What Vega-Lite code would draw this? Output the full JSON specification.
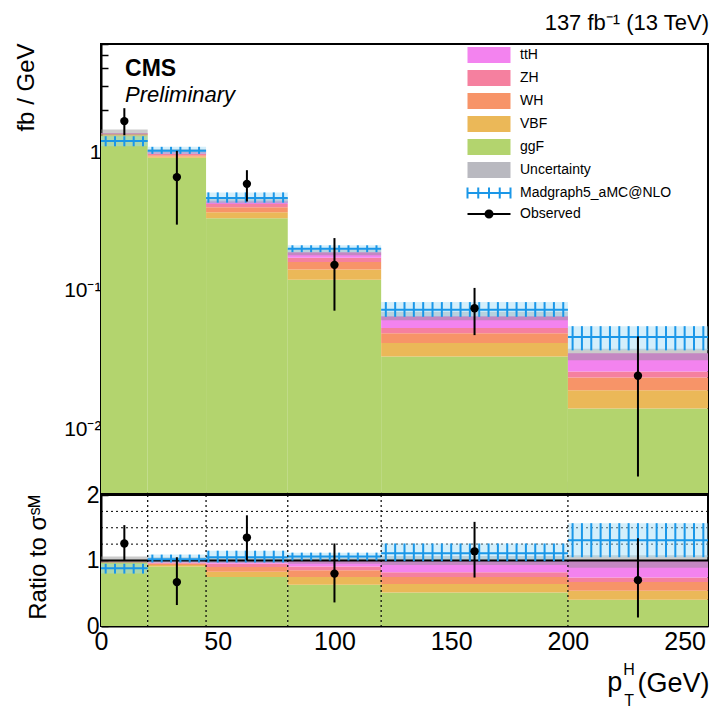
{
  "$schema": "https://vega.github.io/schema/vega-lite/v6.json",
  "padding": {"left": 12, "top": 11, "right": 0, "bottom": 0},
  "spacing": -15,
  "datasets": {
    "stack": [
      {"process": "ggF", "lo": 0, "hi": 20, "y": 0.001, "y2": 1.315, "r": 0, "r2": 0.96},
      {"process": "VBF", "lo": 0, "hi": 20, "y": 1.315, "y2": 1.336, "r": 0.96, "r2": 0.975},
      {"process": "WH", "lo": 0, "hi": 20, "y": 1.336, "y2": 1.349, "r": 0.975, "r2": 0.985},
      {"process": "ZH", "lo": 0, "hi": 20, "y": 1.349, "y2": 1.36, "r": 0.985, "r2": 0.993},
      {"process": "ttH", "lo": 0, "hi": 20, "y": 1.36, "y2": 1.37, "r": 0.993, "r2": 1.0},
      {"process": "ggF", "lo": 20, "hi": 45, "y": 0.001, "y2": 0.91, "r": 0, "r2": 0.91},
      {"process": "VBF", "lo": 20, "hi": 45, "y": 0.91, "y2": 0.93, "r": 0.91, "r2": 0.93},
      {"process": "WH", "lo": 20, "hi": 45, "y": 0.93, "y2": 0.95, "r": 0.93, "r2": 0.95},
      {"process": "ZH", "lo": 20, "hi": 45, "y": 0.95, "y2": 0.97, "r": 0.95, "r2": 0.97},
      {"process": "ttH", "lo": 20, "hi": 45, "y": 0.97, "y2": 1.0, "r": 0.97, "r2": 1.0},
      {"process": "ggF", "lo": 45, "hi": 80, "y": 0.001, "y2": 0.334, "r": 0, "r2": 0.75},
      {"process": "VBF", "lo": 45, "hi": 80, "y": 0.334, "y2": 0.369, "r": 0.75, "r2": 0.83},
      {"process": "WH", "lo": 45, "hi": 80, "y": 0.369, "y2": 0.4, "r": 0.83, "r2": 0.9},
      {"process": "ZH", "lo": 45, "hi": 80, "y": 0.4, "y2": 0.423, "r": 0.9, "r2": 0.95},
      {"process": "ttH", "lo": 45, "hi": 80, "y": 0.423, "y2": 0.445, "r": 0.95, "r2": 1.0},
      {"process": "ggF", "lo": 80, "hi": 120, "y": 0.001, "y2": 0.12, "r": 0, "r2": 0.63},
      {"process": "VBF", "lo": 80, "hi": 120, "y": 0.12, "y2": 0.1425, "r": 0.63, "r2": 0.75},
      {"process": "WH", "lo": 80, "hi": 120, "y": 0.1425, "y2": 0.1615, "r": 0.75, "r2": 0.85},
      {"process": "ZH", "lo": 80, "hi": 120, "y": 0.1615, "y2": 0.173, "r": 0.85, "r2": 0.91},
      {"process": "ttH", "lo": 80, "hi": 120, "y": 0.173, "y2": 0.19, "r": 0.91, "r2": 1.0},
      {"process": "ggF", "lo": 120, "hi": 200, "y": 0.001, "y2": 0.0337, "r": 0, "r2": 0.51},
      {"process": "VBF", "lo": 120, "hi": 200, "y": 0.0337, "y2": 0.0422, "r": 0.51, "r2": 0.64},
      {"process": "WH", "lo": 120, "hi": 200, "y": 0.0422, "y2": 0.0495, "r": 0.64, "r2": 0.75},
      {"process": "ZH", "lo": 120, "hi": 200, "y": 0.0495, "y2": 0.0541, "r": 0.75, "r2": 0.82},
      {"process": "ttH", "lo": 120, "hi": 200, "y": 0.0541, "y2": 0.066, "r": 0.82, "r2": 1.0},
      {"process": "ggF", "lo": 200, "hi": 260, "y": 0.001, "y2": 0.0142, "r": 0, "r2": 0.4},
      {"process": "VBF", "lo": 200, "hi": 260, "y": 0.0142, "y2": 0.0192, "r": 0.4, "r2": 0.54},
      {"process": "WH", "lo": 200, "hi": 260, "y": 0.0192, "y2": 0.0238, "r": 0.54, "r2": 0.67},
      {"process": "ZH", "lo": 200, "hi": 260, "y": 0.0238, "y2": 0.0263, "r": 0.67, "r2": 0.74},
      {"process": "ttH", "lo": 200, "hi": 260, "y": 0.0263, "y2": 0.0355, "r": 0.74, "r2": 1.0}
    ],
    "bins": [
      {"lo": 0, "hi": 20, "x": 10, "obs": 1.67, "obsLo": 1.32, "obsHi": 2.07, "rObs": 1.26, "rObsLo": 1.0, "rObsHi": 1.54, "uLo": 1.315, "uHi": 1.452, "rULo": 0.96, "rUHi": 1.06, "mg": 1.2, "mgLo": 1.1, "mgHi": 1.3, "rMg": 0.88, "rMgLo": 0.8, "rMgHi": 0.95},
      {"lo": 20, "hi": 45, "x": 32.5, "obs": 0.66, "obsLo": 0.3, "obsHi": 1.02, "rObs": 0.67, "rObsLo": 0.32, "rObsHi": 1.05, "uLo": 0.97, "uHi": 1.05, "rULo": 0.97, "rUHi": 1.05, "mg": 1.02, "mgLo": 0.97, "mgHi": 1.09, "rMg": 1.02, "rMgLo": 0.97, "rMgHi": 1.09},
      {"lo": 45, "hi": 80, "x": 62.5, "obs": 0.59, "obsLo": 0.44, "obsHi": 0.74, "rObs": 1.35, "rObsLo": 1.0, "rObsHi": 1.69, "uLo": 0.427, "uHi": 0.467, "rULo": 0.96, "rUHi": 1.05, "mg": 0.467, "mgLo": 0.432, "mgHi": 0.512, "rMg": 1.05, "rMgLo": 0.97, "rMgHi": 1.15},
      {"lo": 80, "hi": 120, "x": 100, "obs": 0.154, "obsLo": 0.072, "obsHi": 0.24, "rObs": 0.8, "rObsLo": 0.36, "rObsHi": 1.26, "uLo": 0.1805, "uHi": 0.1995, "rULo": 0.95, "rUHi": 1.05, "mg": 0.201, "mgLo": 0.19, "mgHi": 0.213, "rMg": 1.06, "rMgLo": 1.0, "rMgHi": 1.12},
      {"lo": 120, "hi": 200, "x": 160, "obs": 0.075, "obsLo": 0.048, "obsHi": 0.105, "rObs": 1.14, "rObsLo": 0.74, "rObsHi": 1.59, "uLo": 0.0614, "uHi": 0.0706, "rULo": 0.93, "rUHi": 1.07, "mg": 0.073, "mgLo": 0.065, "mgHi": 0.083, "rMg": 1.11, "rMgLo": 0.99, "rMgHi": 1.26},
      {"lo": 200, "hi": 260, "x": 230, "obs": 0.0245, "obsLo": 0.0046, "obsHi": 0.047, "rObs": 0.7, "rObsLo": 0.13, "rObsHi": 1.34, "uLo": 0.0316, "uHi": 0.0383, "rULo": 0.89, "rUHi": 1.08, "mg": 0.0465, "mgLo": 0.0373, "mgHi": 0.0557, "rMg": 1.31, "rMgLo": 1.05, "rMgHi": 1.57}
    ],
    "ticks": [
      {"x": 2, "lo": 0}, {"x": 6, "lo": 0}, {"x": 10, "lo": 0}, {"x": 14, "lo": 0}, {"x": 18, "lo": 0},
      {"x": 22, "lo": 20}, {"x": 26, "lo": 20}, {"x": 30, "lo": 20}, {"x": 34, "lo": 20}, {"x": 38, "lo": 20}, {"x": 42, "lo": 20},
      {"x": 46, "lo": 45}, {"x": 50, "lo": 45}, {"x": 54, "lo": 45}, {"x": 58, "lo": 45}, {"x": 62, "lo": 45}, {"x": 66, "lo": 45}, {"x": 70, "lo": 45}, {"x": 74, "lo": 45}, {"x": 78, "lo": 45},
      {"x": 82, "lo": 80}, {"x": 86, "lo": 80}, {"x": 90, "lo": 80}, {"x": 94, "lo": 80}, {"x": 98, "lo": 80}, {"x": 102, "lo": 80}, {"x": 106, "lo": 80}, {"x": 110, "lo": 80}, {"x": 114, "lo": 80}, {"x": 118, "lo": 80},
      {"x": 122, "lo": 120}, {"x": 126, "lo": 120}, {"x": 130, "lo": 120}, {"x": 134, "lo": 120}, {"x": 138, "lo": 120}, {"x": 142, "lo": 120}, {"x": 146, "lo": 120}, {"x": 150, "lo": 120}, {"x": 154, "lo": 120}, {"x": 158, "lo": 120},
      {"x": 162, "lo": 120}, {"x": 166, "lo": 120}, {"x": 170, "lo": 120}, {"x": 174, "lo": 120}, {"x": 178, "lo": 120}, {"x": 182, "lo": 120}, {"x": 186, "lo": 120}, {"x": 190, "lo": 120}, {"x": 194, "lo": 120}, {"x": 198, "lo": 120},
      {"x": 202, "lo": 200}, {"x": 206, "lo": 200}, {"x": 210, "lo": 200}, {"x": 214, "lo": 200}, {"x": 218, "lo": 200}, {"x": 222, "lo": 200}, {"x": 226, "lo": 200}, {"x": 230, "lo": 200}, {"x": 234, "lo": 200}, {"x": 238, "lo": 200},
      {"x": 242, "lo": 200}, {"x": 246, "lo": 200}, {"x": 250, "lo": 200}, {"x": 254, "lo": 200}, {"x": 258, "lo": 200}
    ]
  },
  "resolve": {"scale": {"fill": "independent"}, "legend": {"fill": "independent"}},
  "vconcat": [
    {
      "width": 607,
      "height": 449,
      "title": {"text": "137 fb⁻¹ (13 TeV)", "anchor": "end", "fontSize": 22, "fontWeight": "normal", "font": "Liberation Sans", "offset": 8, "color": "black"},
      "layer": [
        {
          "data": {"name": "stack"},
          "mark": {"type": "rect", "clip": true},
          "encoding": {
            "x": {"field": "lo", "type": "quantitative", "scale": {"domain": [0, 260], "nice": false, "zero": false},
                  "axis": {"values": [0, 50, 100, 150, 200, 250], "labels": false, "tickSize": -12, "tickWidth": 1.5, "title": null}},
            "x2": {"field": "hi"},
            "y": {"field": "y", "type": "quantitative", "scale": {"type": "log", "domain": [0.0035, 6], "nice": false},
                  "axis": {"title": "fb / GeV", "titleFontSize": 24, "titleAnchor": "end", "titleAlign": "right", "titleAngle": -90, "titleX": -68, "titleY": -1, "titleBaseline": "alphabetic",
                           "values": [0.004, 0.005, 0.006, 0.007, 0.008, 0.009, 0.01, 0.02, 0.03, 0.04, 0.05, 0.06, 0.07, 0.08, 0.09, 0.1, 0.2, 0.3, 0.4, 0.5, 0.6, 0.7, 0.8, 0.9, 1, 2, 3, 4, 5, 6],
                           "labelExpr": "datum.value == 1 ? '1' : datum.value == 0.1 ? '10⁻¹' : datum.value == 0.01 ? '10⁻²' : ''",
                           "labelFontSize": 21, "labelPadding": 14, "tickWidth": 1.5,
                           "tickSize": {"condition": {"test": "datum.value == 1 || datum.value == 0.1 || datum.value == 0.01", "value": -14}, "value": -7}}},
            "y2": {"field": "y2"},
            "fill": {"field": "process", "type": "nominal",
                     "scale": {"domain": ["ttH", "ZH", "WH", "VBF", "ggF", "Uncertainty", "Madgraph5_aMC@NLO", "Observed"],
                               "range": ["#f383ef", "#f5809f", "#f79468", "#ebb858", "#b3d46e", "#b9b9c0", "#1a97e8", "#000000"]},
                     "legend": {"orient": "none", "legendX": 377, "legendY": 0, "padding": 0, "rowPadding": -3.4, "title": null,
                                "symbolSize": 400, "labelOffset": 20, "labelFontSize": 14, "labelFont": "Liberation Sans", "labelColor": "black", "labelLimit": 300,
                                "encode": {"symbols": {"update": {
                                  "shape": {"signal": "datum.value === 'Observed' ? 'M-2.15,0H2.15M-0.35,0A0.35,0.35 0 1,1 0.35,0A0.35,0.35 0 1,1 -0.35,0Z' : datum.value === 'Madgraph5_aMC@NLO' ? 'M-2.15,0H2.15M-2.15,-0.55V0.55M-1.075,-0.55V0.55M0,-0.55V0.55M1.075,-0.55V0.55M2.15,-0.55V0.55' : 'M-2.15,-0.8H2.15V0.8H-2.15Z'"},
                                  "stroke": {"signal": "datum.value === 'Observed' ? '#000000' : datum.value === 'Madgraph5_aMC@NLO' ? '#1a97e8' : 'transparent'"},
                                  "strokeWidth": {"value": 2}}}}}}
          }
        },
        {
          "data": {"name": "bins"},
          "mark": {"type": "rect", "fill": "#8c8c8c", "fillOpacity": 0.45},
          "encoding": {"x": {"field": "lo", "type": "quantitative"}, "x2": {"field": "hi"}, "y": {"field": "uLo", "type": "quantitative"}, "y2": {"field": "uHi"}}
        },
        {
          "data": {"name": "bins"},
          "mark": {"type": "rect", "fill": "#9fdcf7", "fillOpacity": 0.45},
          "encoding": {"x": {"field": "lo", "type": "quantitative"}, "x2": {"field": "hi"}, "y": {"field": "mgLo", "type": "quantitative"}, "y2": {"field": "mgHi"}}
        },
        {
          "data": {"name": "ticks"},
          "transform": [{"lookup": "lo", "from": {"data": {"name": "bins"}, "key": "lo", "fields": ["mgLo", "mgHi"]}}],
          "mark": {"type": "rule", "stroke": "#1a97e8", "strokeWidth": 2},
          "encoding": {"x": {"field": "x", "type": "quantitative"}, "y": {"field": "mgLo", "type": "quantitative"}, "y2": {"field": "mgHi"}}
        },
        {
          "data": {"name": "bins"},
          "mark": {"type": "rule", "stroke": "#1a97e8", "strokeWidth": 2},
          "encoding": {"x": {"field": "lo", "type": "quantitative"}, "x2": {"field": "hi"}, "y": {"field": "mg", "type": "quantitative"}}
        },
        {
          "data": {"name": "bins"},
          "mark": {"type": "rule", "stroke": "black", "strokeWidth": 2},
          "encoding": {"x": {"field": "x", "type": "quantitative"}, "y": {"field": "obsLo", "type": "quantitative"}, "y2": {"field": "obsHi"}}
        },
        {
          "data": {"name": "bins"},
          "mark": {"type": "point", "filled": true, "fill": "black", "opacity": 1, "size": 70},
          "encoding": {"x": {"field": "x", "type": "quantitative"}, "y": {"field": "obs", "type": "quantitative"}}
        },
        {
          "data": {"values": [{}]},
          "mark": {"type": "text", "text": "CMS", "fontSize": 23, "fontWeight": "bold", "align": "left", "baseline": "alphabetic", "font": "Liberation Sans", "color": "black"},
          "encoding": {"x": {"datum": 10.3}, "y": {"datum": 3.52}}
        },
        {
          "data": {"values": [{}]},
          "mark": {"type": "text", "text": "Preliminary", "fontSize": 22, "fontStyle": "italic", "align": "left", "baseline": "alphabetic", "font": "Liberation Sans", "color": "black"},
          "encoding": {"x": {"datum": 10.3}, "y": {"datum": 2.29}}
        }
      ]
    },
    {
      "width": 607,
      "height": 131,
      "layer": [
        {
          "data": {"values": [{"g": 1.25}, {"g": 1.5}, {"g": 1.75}]},
          "mark": {"type": "rule", "stroke": "black", "strokeWidth": 1, "strokeDash": [2, 3]},
          "encoding": {"y": {"field": "g", "type": "quantitative"}}
        },
        {
          "data": {"name": "stack"},
          "mark": {"type": "rect"},
          "encoding": {
            "x": {"field": "lo", "type": "quantitative", "scale": {"domain": [0, 260], "nice": false, "zero": false},
                  "axis": {"values": [0, 50, 100, 150, 200, 250], "tickSize": -7, "tickWidth": 1.5, "labelFontSize": 25, "labelPadding": 10, "labelFlush": false,
                           "title": "(GeV)", "titleFontSize": 27, "titleAnchor": "end", "titleAlign": "right", "titleX": 608, "titleY": 65, "titleBaseline": "alphabetic"}},
            "x2": {"field": "hi"},
            "y": {"field": "r", "type": "quantitative", "scale": {"domain": [0, 2], "nice": false},
                  "axis": {"values": [0, 0.5, 1, 1.5, 2], "format": "~g", "tickSize": -7, "tickWidth": 1.5, "labelFontSize": 23, "labelPadding": 9,
                           "title": "Ratio to σˢᴹ", "titleFontSize": 24, "titleAngle": -90, "titleX": -56, "titleY": 62, "titleAlign": "center", "titleBaseline": "alphabetic"}},
            "y2": {"field": "r2"},
            "fill": {"field": "process", "type": "nominal",
                     "scale": {"domain": ["ttH", "ZH", "WH", "VBF", "ggF", "Uncertainty", "Madgraph5_aMC@NLO", "Observed"],
                               "range": ["#f383ef", "#f5809f", "#f79468", "#ebb858", "#b3d46e", "#b9b9c0", "#1a97e8", "#000000"]},
                     "legend": null}
          }
        },
        {
          "data": {"name": "bins"},
          "mark": {"type": "rect", "fill": "#8c8c8c", "fillOpacity": 0.45},
          "encoding": {"x": {"field": "lo", "type": "quantitative"}, "x2": {"field": "hi"}, "y": {"field": "rULo", "type": "quantitative"}, "y2": {"field": "rUHi"}}
        },
        {
          "data": {"name": "bins"},
          "mark": {"type": "rect", "fill": "#9fdcf7", "fillOpacity": 0.45},
          "encoding": {"x": {"field": "lo", "type": "quantitative"}, "x2": {"field": "hi"}, "y": {"field": "rMgLo", "type": "quantitative"}, "y2": {"field": "rMgHi"}}
        },
        {
          "data": {"values": [{}]},
          "mark": {"type": "rule", "stroke": "black", "strokeWidth": 2},
          "encoding": {"y": {"datum": 1}}
        },
        {
          "data": {"name": "ticks"},
          "transform": [{"lookup": "lo", "from": {"data": {"name": "bins"}, "key": "lo", "fields": ["rMgLo", "rMgHi"]}}],
          "mark": {"type": "rule", "stroke": "#1a97e8", "strokeWidth": 2},
          "encoding": {"x": {"field": "x", "type": "quantitative"}, "y": {"field": "rMgLo", "type": "quantitative"}, "y2": {"field": "rMgHi"}}
        },
        {
          "data": {"name": "bins"},
          "mark": {"type": "rule", "stroke": "#1a97e8", "strokeWidth": 2},
          "encoding": {"x": {"field": "lo", "type": "quantitative"}, "x2": {"field": "hi"}, "y": {"field": "rMg", "type": "quantitative"}}
        },
        {
          "data": {"values": [{"e": 20}, {"e": 45}, {"e": 80}, {"e": 120}, {"e": 200}]},
          "mark": {"type": "rule", "stroke": "black", "strokeWidth": 1.2, "strokeDash": [2, 3]},
          "encoding": {"x": {"field": "e", "type": "quantitative"}}
        },
        {
          "data": {"name": "bins"},
          "mark": {"type": "rule", "stroke": "black", "strokeWidth": 2},
          "encoding": {"x": {"field": "x", "type": "quantitative"}, "y": {"field": "rObsLo", "type": "quantitative"}, "y2": {"field": "rObsHi"}}
        },
        {
          "data": {"name": "bins"},
          "mark": {"type": "point", "filled": true, "fill": "black", "opacity": 1, "size": 70},
          "encoding": {"x": {"field": "x", "type": "quantitative"}, "y": {"field": "rObs", "type": "quantitative"}}
        },
        {
          "data": {"values": [{}]},
          "mark": {"type": "text", "text": "p", "fontSize": 27, "align": "right", "baseline": "alphabetic", "font": "Liberation Sans", "color": "black"},
          "encoding": {"x": {"datum": 223.3}, "y": {"datum": -0.99}}
        },
        {
          "data": {"values": [{}]},
          "mark": {"type": "text", "text": "H", "fontSize": 16, "align": "center", "baseline": "alphabetic", "font": "Liberation Sans", "color": "black"},
          "encoding": {"x": {"datum": 226.2}, "y": {"datum": -0.75}}
        },
        {
          "data": {"values": [{}]},
          "mark": {"type": "text", "text": "T", "fontSize": 16, "align": "center", "baseline": "alphabetic", "font": "Liberation Sans", "color": "black"},
          "encoding": {"x": {"datum": 226.2}, "y": {"datum": -1.22}}
        }
      ]
    }
  ],
  "config": {
    "font": "Liberation Sans",
    "view": {"stroke": "black", "strokeWidth": 2},
    "axis": {"domainColor": "black", "domainWidth": 2, "tickColor": "black", "labelColor": "black", "titleColor": "black", "grid": false, "zindex": 1,
             "titleFontWeight": "normal", "labelFont": "Liberation Sans", "titleFont": "Liberation Sans"}
  }
}
